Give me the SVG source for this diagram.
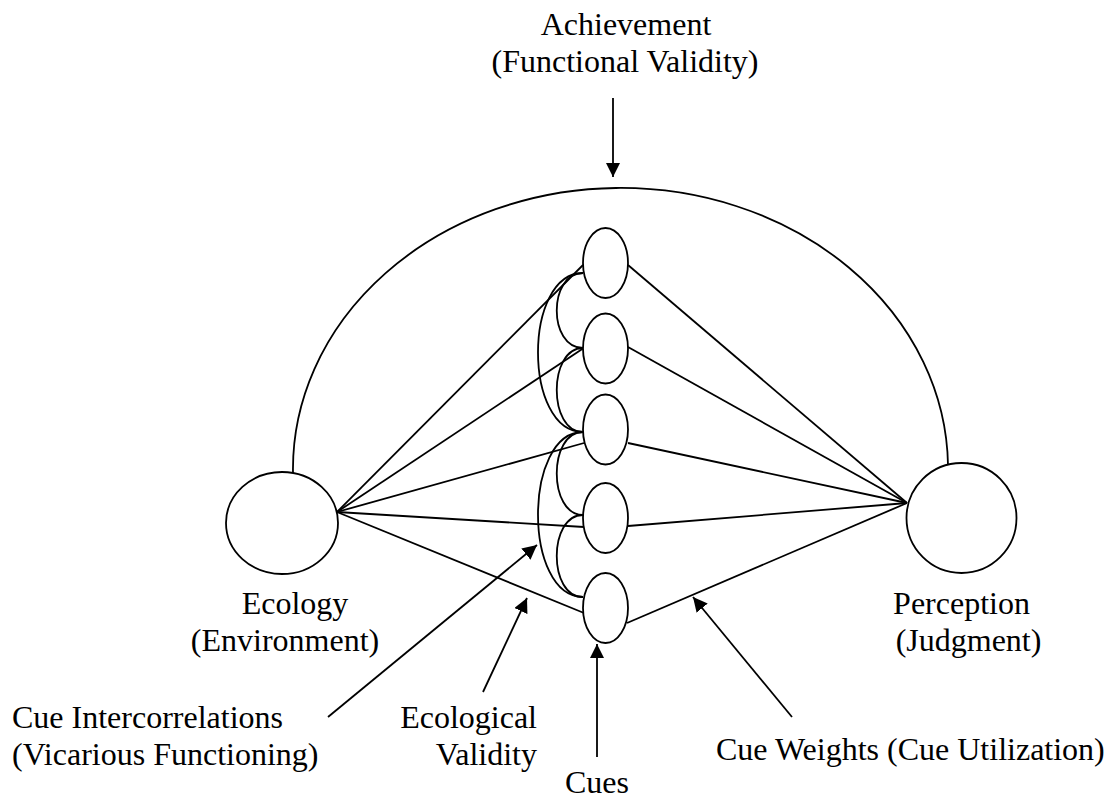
<svg xmlns="http://www.w3.org/2000/svg" width="1113" height="800" viewBox="0 0 1113 800">
<defs>
<style>
.s{fill:none;stroke:#000;stroke-width:1.8}
.n{fill:#fff;stroke:#000;stroke-width:1.8}
.t{font-family:"Liberation Serif","Times New Roman",serif;font-size:32px;fill:#000}
.m{text-anchor:middle}
.e{text-anchor:end}
</style>
<marker id="ah" viewBox="0 0 10 10" refX="10" refY="5" markerWidth="8" markerHeight="8" markerUnits="strokeWidth" orient="auto">
<path d="M0,0 L10,5 L0,10 z" fill="#000"/>
</marker>
</defs>
<rect width="1113" height="800" fill="#fff"/>
<g id="connectors">
<path class="s" d="M293,473 A327.5,281 0 0 1 948,465"/>
<line class="s" x1="337" y1="512" x2="583" y2="265"/>
<line class="s" x1="337" y1="512" x2="583" y2="348.5"/>
<line class="s" x1="337" y1="512" x2="584" y2="443"/>
<line class="s" x1="337" y1="512" x2="584" y2="527"/>
<line class="s" x1="337" y1="512" x2="584" y2="613"/>
<line class="s" x1="628" y1="265" x2="907" y2="503"/>
<line class="s" x1="628" y1="347" x2="907" y2="503"/>
<line class="s" x1="628" y1="443" x2="907" y2="503"/>
<line class="s" x1="628" y1="526" x2="907" y2="503"/>
<line class="s" x1="627" y1="623" x2="907" y2="503"/>
<path class="s" d="M583,273 C548,273 548,348 583,348"/>
<path class="s" d="M583,273 C523,273 523,432 583,432"/>
<path class="s" d="M583,348 C548,348 548,432 583,432"/>
<path class="s" d="M583,432 C548,432 548,515 583,515"/>
<path class="s" d="M583,432 C523,432 523,597 583,597"/>
<path class="s" d="M583,515 C548,515 548,597 583,597"/>
<line class="s" x1="613" y1="98" x2="613" y2="177" marker-end="url(#ah)"/>
<line class="s" x1="328" y1="717" x2="537" y2="545" marker-end="url(#ah)"/>
<line class="s" x1="483" y1="692" x2="527" y2="598" marker-end="url(#ah)"/>
<line class="s" x1="597" y1="757" x2="597" y2="644" marker-end="url(#ah)"/>
<line class="s" x1="792" y1="717" x2="693" y2="597" marker-end="url(#ah)"/>
</g>
<g id="ecology">
<ellipse class="n" cx="282" cy="523" rx="56" ry="51"/>
<text class="t m" x="295" y="614">Ecology</text>
<text class="t m" x="285" y="651">(Environment)</text>
</g>
<g id="perception">
<circle class="n" cx="961.5" cy="518" r="55"/>
<text class="t m" x="961.5" y="614">Perception</text>
<text class="t m" x="968.5" y="651">(Judgment)</text>
</g>
<g id="cues">
<ellipse class="n" cx="605.5" cy="263" rx="22.5" ry="35"/>
<ellipse class="n" cx="605.5" cy="348.5" rx="22.5" ry="35"/>
<ellipse class="n" cx="605.5" cy="429.5" rx="22.5" ry="35"/>
<ellipse class="n" cx="605.5" cy="518" rx="22.5" ry="35"/>
<ellipse class="n" cx="605.5" cy="608" rx="22.5" ry="35"/>
</g>
<g id="achievement">
<text class="t m" x="626" y="35">Achievement</text>
<text class="t m" x="625" y="72">(Functional Validity)</text>
</g>
<g id="cue-intercorrelations">
<text class="t" x="12" y="728">Cue Intercorrelations</text>
<text class="t" x="12" y="765">(Vicarious Functioning)</text>
</g>
<g id="ecological-validity">
<text class="t e" x="537" y="728">Ecological</text>
<text class="t e" x="537" y="765">Validity</text>
</g>
<g id="cues-label">
<text class="t m" x="597" y="793">Cues</text>
</g>
<g id="cue-weights">
<text class="t" x="716" y="760">Cue Weights (Cue Utilization)</text>
</g>
</svg>
